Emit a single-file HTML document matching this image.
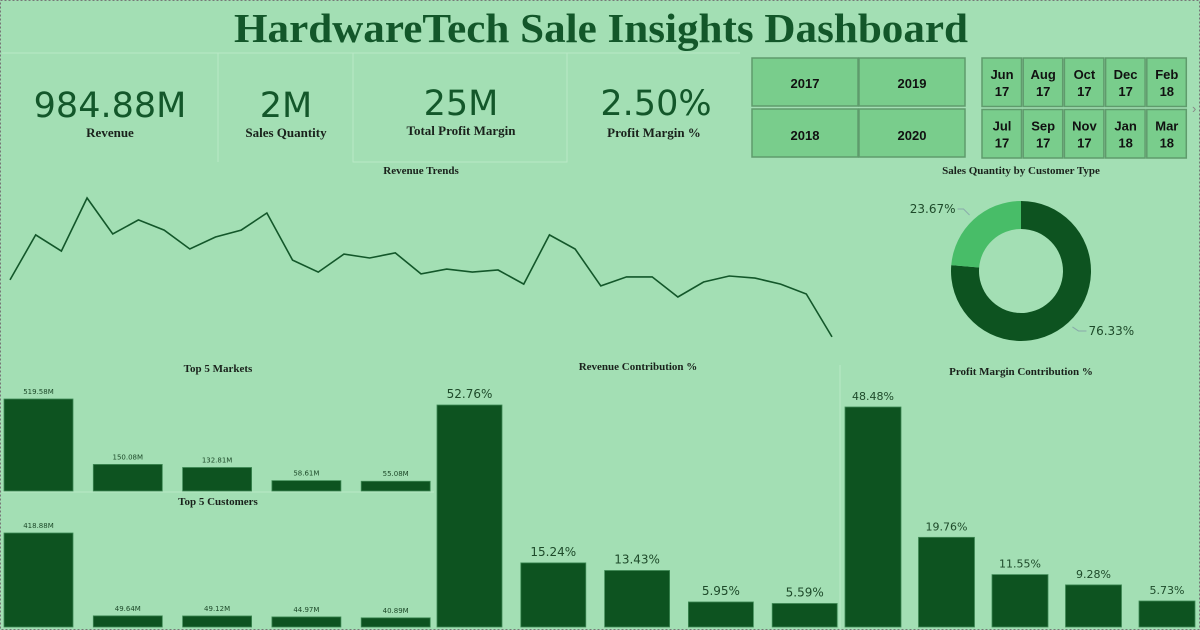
<!DOCTYPE html>
<html><head><meta charset="utf-8"><style>
html,body{margin:0;padding:0;width:1200px;height:630px;overflow:hidden;background:#a3dfb4}
svg{display:block}
.ser{font-family:"Liberation Serif",serif;font-weight:bold;fill:#1a221c}
.kpi{font-family:"DejaVu Sans","Liberation Sans",sans-serif;fill:#13572a}
.btn{fill:#79cd8c;stroke:#5f9b6c;stroke-width:1.5}
.bt{font-family:"Liberation Sans",sans-serif;font-weight:bold;font-size:13px;fill:#111;text-anchor:middle}
</style></head><body>
<svg id="dash" width="1200" height="630" viewBox="0 0 1200 630">
<rect x="0.5" y="0.5" width="1199" height="629" fill="#a3dfb4" stroke="#777" stroke-dasharray="2,2"/>
<text x="601" y="42" text-anchor="middle" font-family="Liberation Serif,serif" font-weight="bold" font-size="41" fill="#13572a" textLength="734" lengthAdjust="spacingAndGlyphs">HardwareTech Sale Insights Dashboard</text>
<g stroke="#b9e8c6" stroke-width="1" fill="none">
<line x1="2" y1="53" x2="740" y2="53"/><line x1="218" y1="53" x2="218" y2="162"/>
<rect x="353" y="53" width="214" height="109"/>
</g>
<g><text class="kpi" x="110" y="117" font-size="35" text-anchor="middle">984.88M</text><text class="ser" x="110" y="137" font-size="13" text-anchor="middle">Revenue</text></g>
<g><text class="kpi" x="286" y="117" font-size="35" text-anchor="middle">2M</text><text class="ser" x="286" y="137" font-size="13" text-anchor="middle">Sales Quantity</text></g>
<g><text class="kpi" x="461" y="115" font-size="35" text-anchor="middle">25M</text><text class="ser" x="461" y="135" font-size="13" text-anchor="middle">Total Profit Margin</text></g>
<g><text class="kpi" x="656" y="115" font-size="35" text-anchor="middle">2.50%</text><text class="ser" x="654" y="137" font-size="13" text-anchor="middle">Profit Margin %</text></g>
<g>
<rect class="btn" x="752" y="58" width="106" height="48"/><text class="bt" x="805" y="88">2017</text>
<rect class="btn" x="859" y="58" width="106" height="48"/><text class="bt" x="912" y="88">2019</text>
<rect class="btn" x="752" y="109" width="106" height="48"/><text class="bt" x="805" y="140">2018</text>
<rect class="btn" x="859" y="109" width="106" height="48"/><text class="bt" x="912" y="140">2020</text>
</g>
<g id="months"></g>
<text x="1192" y="113" font-family="Liberation Sans,sans-serif" font-size="13" fill="#888">›</text>
<text class="ser" x="421" y="174" font-size="11" text-anchor="middle">Revenue Trends</text>
<g id="trend"></g>
<text class="ser" x="1021" y="174" font-size="11" text-anchor="middle">Sales Quantity by Customer Type</text>
<g id="donut"></g>
<line x1="2" y1="492" x2="434" y2="492" stroke="#b9e8c6"/>
<line x1="840" y1="365" x2="840" y2="630" stroke="#b9e8c6"/>
<text class="ser" x="218" y="372" font-size="11" text-anchor="middle">Top 5 Markets</text>
<text class="ser" x="218" y="505" font-size="11" text-anchor="middle">Top 5 Customers</text>
<text class="ser" x="638" y="370" font-size="11" text-anchor="middle">Revenue Contribution %</text>
<text class="ser" x="1021" y="375" font-size="11" text-anchor="middle">Profit Margin Contribution %</text>
<g id="bars"></g>
</svg>
<script>
const NS="http://www.w3.org/2000/svg";
const monthLabels=[["Jun","17"],["Aug","17"],["Oct","17"],["Dec","17"],["Feb","18"],["Jul","17"],["Sep","17"],["Nov","17"],["Jan","18"],["Mar","18"]];
const trendValues=[26.7,41.7,36.3,54,42,46.7,43.3,37,41,43.3,49,33.3,29.3,35.3,34,35.7,28.7,30.3,29.3,30,25.3,41.7,37,24.7,27.7,27.7,21,26,28,27.3,25.3,22,7.7];
const donutValues=[76.33,23.67];
const marketValues=[519.58,150.08,132.81,58.61,55.08];
const customerValues=[418.88,49.64,49.12,44.97,40.89];
const revContribValues=[52.76,15.24,13.43,5.95,5.59];
const profitContribValues=[48.48,19.76,11.55,9.28,5.73];
function mk(t,a,p){const e=document.createElementNS(NS,t);for(const k in a)e.setAttribute(k,a[k]);p.appendChild(e);return e;}
const mg=document.getElementById('months');
monthLabels.forEach((m,i)=>{const c=i%5,r=Math.floor(i/5);const x=982+c*41.2,y=58+r*51.5;
const b=mk('rect',{class:'btn',x:x,y:y,width:39.5,height:48.5},mg);


const t1=mk('text',{class:'bt',x:x+20,y:y+21},mg);t1.textContent=m[0];
const t2=mk('text',{class:'bt',x:x+20,y:y+38},mg);t2.textContent=m[1];});
const tg=document.getElementById('trend');
const tx=i=>10+i*(822/(trendValues.length-1));
const ty=v=>360-v*3;
const pl=mk('polyline',{points:trendValues.map((v,i)=>tx(i)+','+ty(v)).join(' '),fill:'none',stroke:'#13572a','stroke-width':1.6},tg);


const dg=document.getElementById('donut');
const cx=1021,cy=271,R=70,r=42,tot=donutValues.reduce((a,b)=>a+b,0),cols=['#0d5320','#48bd68'];
let a0=0;
donutValues.forEach((v,i)=>{const a1=a0+v/tot*2*Math.PI;
const p=(a,rr)=>[cx+rr*Math.sin(a),cy-rr*Math.cos(a)];
const [x1,y1]=p(a0,R),[x2,y2]=p(a1,R),[x3,y3]=p(a1,r),[x4,y4]=p(a0,r);const lg=(a1-a0)>Math.PI?1:0;
const s=mk('path',{d:`M${x1},${y1}A${R},${R} 0 ${lg} 1 ${x2},${y2}L${x3},${y3}A${r},${r} 0 ${lg} 0 ${x4},${y4}Z`,fill:cols[i]},dg);


const am=(a0+a1)/2,[lx,ly]=p(am,R+6),right=Math.sin(am)>0;
mk('polyline',{points:`${lx},${ly} ${lx+(right?6:-6)},${ly+(right?4:-6)} ${lx+(right?14:-12)},${ly+(right?4:-6)}`,fill:'none',stroke:'#8aa',"stroke-width":1},dg);
const t=mk('text',{x:lx+(right?16:-14),y:ly+(right?8:-2),'text-anchor':right?'start':'end','font-family':'DejaVu Sans,sans-serif','font-size':12,fill:'#1e4a2a'},dg);
t.textContent=v.toFixed(2)+'%';


a0=a1;});
const bg=document.getElementById('bars');
function barChart(vals,x0,step,w,base,maxH,fmt,fs,nm){const mx=Math.max(...vals);
vals.forEach((v,i)=>{const h=v/mx*maxH,x=x0+i*step;
const b=mk('rect',{x:x,y:base-h,width:w,height:h,fill:'#0d5320',stroke:'#3f8a55','stroke-width':0.8},bg);


const t=mk('text',{x:x+w/2,y:base-h-(fs>9?7:5),'text-anchor':'middle','font-family':'DejaVu Sans,sans-serif','font-size':fs,fill:'#1e4a2a'},bg);
t.textContent=fmt(v);

});}
barChart(marketValues,4,89.3,69,491,92,v=>v.toFixed(2)+'M',7,'market');
barChart(customerValues,4,89.3,69,627,94,v=>v.toFixed(2)+'M',7,'customer');
barChart(revContribValues,437,83.8,65,627,222,v=>v.toFixed(2)+'%',12,'revenue-contribution');
barChart(profitContribValues,845,73.5,56,627,220,v=>v.toFixed(2)+'%',11,'profit-contribution');
</script>
</body></html>
